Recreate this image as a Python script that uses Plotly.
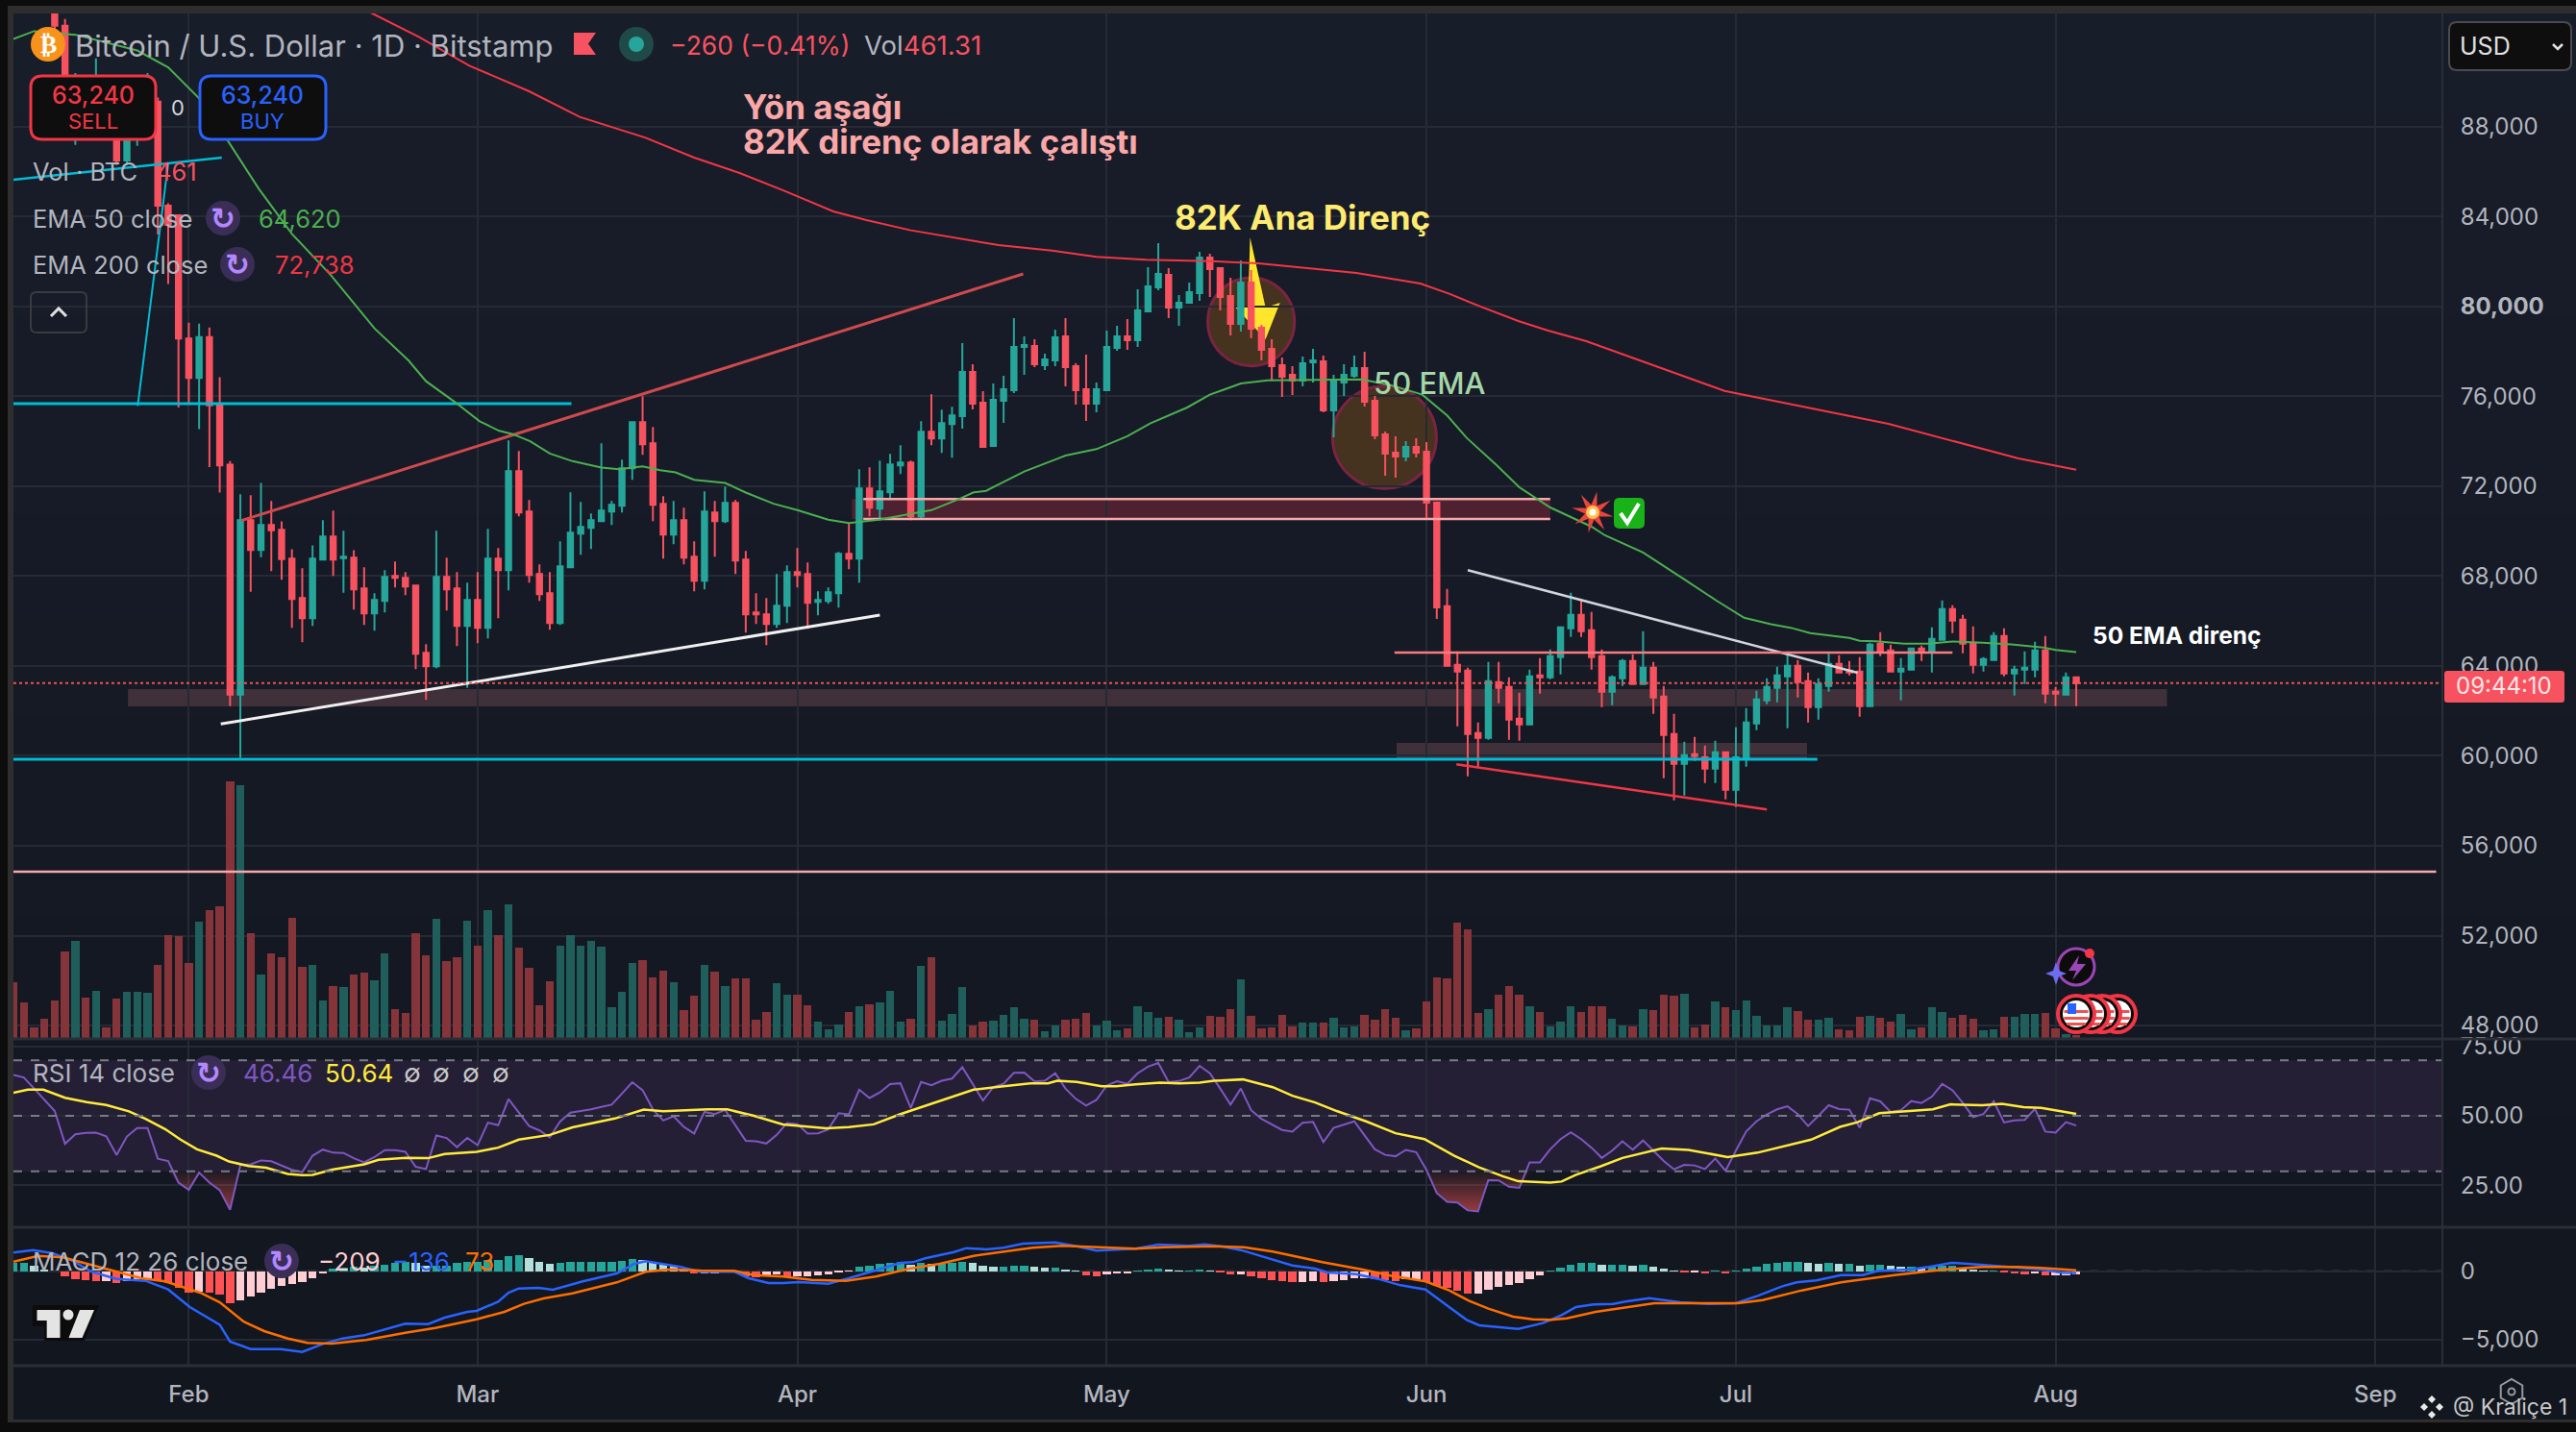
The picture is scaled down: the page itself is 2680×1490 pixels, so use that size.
"""BTC/USD daily chart with volume, RSI and MACD panes."""
import math
from datetime import datetime, timedelta

import numpy as np
import pandas as pd
import plotly.graph_objects as go

START = datetime(2026, 1, 15)
dates = pd.date_range("2026-01-15", "2026-08-03")

opens = [
    97000, 96000, 95300, 95100, 94600, 92500, 88900, 89800, 89400, 89600, 89400, 86500, 87900, 89100, 89125, 84491, 84063,
    78573, 76820, 78644, 75643, 72962, 62724, 70495, 69169, 70281, 70067, 68784, 67030, 66132, 68741, 69768, 68798, 68827, 67458, 66345, 66902, 68014, 67928, 67586, 64592, 63993, 67971, 67458, 65790,
    66945, 65704, 68784, 68271, 72677, 70880, 68100, 67244, 65918, 68399, 69896, 70153, 70453, 70880, 71137, 72805, 74859, 73918, 71223, 69853, 70495, 68870, 67800, 70837, 70453, 71265, 68741, 66388, 66303, 65875, 66688,
    68185, 68100, 66859, 66902, 67244, 68998, 68784, 71907, 71009, 71736, 72934, 73062, 70666, 74431, 74131, 74773, 75123, 77091, 75722, 73797, 75807, 76278, 78203, 78246, 77390, 77604, 78674, 77347, 76321, 75679,
    76278, 78160, 78674, 78503, 79786, 80855, 81411, 79957, 80171, 80599, 82182, 81711, 80470, 79230, 81069, 79059, 78117, 77390, 76962, 76706, 77519, 77561, 75379, 76620, 76920, 77262, 75807, 74310, 73497, 73326, 73754,
    73540, 71273, 66660, 64050, 63794, 61013, 60799, 63280, 63066, 61655, 61398, 63580, 63494, 64393, 65676, 66275, 65590, 64435, 62853, 63451, 64221, 63195, 63922, 62639, 60970, 59644, 60072, 59943, 59430, 60157,
    58489, 59901, 61441, 62467, 63024, 63537, 64007, 63323, 62168, 63109, 64093, 63794, 63751, 62211, 64991, 64692, 63751, 63836, 64777, 64649, 65163, 66532, 66061, 65034, 64050, 64264, 65334, 63665, 63836, 63836, 64692,
    62853, 62724, 63494,
]
highs = [
    97300, 96300, 95600, 95400, 94800, 92800, 90400, 90200, 91050, 90000, 89600, 88900, 89400, 90400, 89300, 84600, 84100,
    79286, 79243, 79072, 76855, 73119, 71650, 71607, 72150, 71351, 70438, 69198, 68356, 69369, 70495, 70923, 70025, 69155, 68399, 67244, 68271, 68656, 68185, 67629, 64976, 70025, 68827, 68185, 67714,
    68185, 70110, 69255, 74046, 73575, 71393, 68527, 68185, 69554, 71736, 71308, 70795, 73918, 71351, 73190, 74902, 76014, 74645, 71565, 71351, 71051, 69554, 71779, 71351, 71993, 71393, 69126, 67244, 67030, 68100, 68485,
    69255, 68613, 67329, 67501, 69083, 70367, 72763, 72848, 73147, 73447, 73832, 73147, 74902, 76099, 75415, 75543, 78374, 77433, 76235, 76577, 76920, 79486, 78674, 78545, 77904, 78973, 79486, 77476, 77861, 76620,
    78930, 79144, 79444, 80770, 81754, 82823, 81711, 80513, 81069, 82438, 82353, 81754, 81283, 82053, 81626, 79187, 78545, 77733, 77347, 77775, 78117, 77818, 76962, 77433, 77818, 77989, 76021, 74438, 74224, 74011, 74139,
    73968, 71315, 67430, 64649, 63922, 61483, 64179, 64179, 63494, 62810, 63836, 64350, 64735, 65761, 67259, 66959, 66403, 64735, 63580, 64307, 64521, 65548, 64179, 63109, 61868, 60628, 60842, 60457, 60671, 60157,
    61270, 62125, 62895, 63451, 63965, 64649, 64264, 63708, 63451, 64606, 64478, 64221, 64393, 65034, 65505, 64949, 64350, 64820, 64906, 65719, 66917, 66703, 66275, 65761, 64393, 65505, 65676, 64007, 64649, 65077, 65334,
    63066, 63708, 63537,
]
lows = [
    95800, 95000, 94800, 94300, 92300, 89900, 87200, 88400, 88500, 88900, 86300, 86300, 87150, 88800, 83207, 81000, 75507,
    75621, 74545, 72860, 71720, 62210, 59914, 67300, 68841, 68228, 67843, 65704, 65062, 65790, 68698, 68014, 67258, 66517, 65832, 65575, 66388, 67501, 67158, 63864, 62495, 63907, 66474, 64891, 63023,
    65019, 65233, 66132, 67372, 70666, 67714, 66902, 65618, 65832, 68399, 68955, 69212, 70410, 70281, 70837, 72292, 73404, 70453, 68784, 69426, 68527, 67329, 67415, 68870, 70367, 68100, 65490, 65875, 64934, 65704, 65918,
    67501, 65661, 66260, 66773, 66602, 68313, 67714, 70666, 70495, 71393, 72548, 70495, 70581, 73832, 73490, 73276, 74567, 75422, 73754, 73754, 74823, 76150, 76962, 77305, 77176, 77347, 76449, 75636, 74909, 75294,
    76278, 78032, 78075, 78203, 79786, 80727, 79486, 79144, 80128, 80256, 80428, 79829, 78716, 78888, 78588, 77604, 76706, 75978, 76064, 76449, 76620, 75294, 74182, 76021, 76834, 75551, 74096, 72471, 72385, 73112, 73283,
    70546, 66097, 63965, 61312, 59088, 59516, 60713, 62339, 60713, 60671, 61398, 62767, 63409, 63622, 65291, 65291, 63836, 62168, 62254, 63109, 63195, 63195, 61868, 59002, 58018, 58232, 59772, 58788, 58788, 58061,
    57719, 59516, 61141, 62296, 62382, 61227, 62596, 61483, 61612, 62853, 63708, 63580, 61740, 62211, 64435, 63708, 62467, 63836, 64221, 63708, 65120, 65462, 64564, 63665, 63751, 64221, 63537, 62681, 63195, 63494, 62339,
    62211, 62724, 62211,
]
closes = [
    96000, 95300, 95100, 94600, 92505, 90100, 89900, 89400, 89600, 89400, 86500, 88200, 89200, 89200, 84491, 83635, 78573,
    76820, 78644, 75600, 72934, 62724, 70495, 69169, 70281, 70039, 68755, 66987, 66132, 68784, 69768, 68741, 68870, 67415, 66345, 66945, 67971, 67928, 67544, 64549, 63993, 67971, 67415, 65790, 66945,
    65704, 68784, 68271, 72677, 70837, 68057, 67201, 65918, 68442, 69939, 70196, 70495, 70923, 71180, 72805, 74859, 73875, 71180, 69853, 70495, 68827, 67800, 70880, 70453, 71265, 68698, 66303, 66303, 65875, 66688, 68185,
    68057, 66816, 66945, 67287, 68998, 68784, 71907, 71051, 71779, 72976, 73062, 70666, 74431, 74131, 74816, 75158, 77091, 75679, 73754, 75850, 76321, 78203, 78289, 77433, 77647, 78631, 77305, 76278, 75679, 76321,
    78203, 78674, 78503, 79829, 80898, 81454, 79957, 80171, 80642, 82182, 81668, 80428, 79230, 81069, 79016, 78075, 77347, 76877, 76706, 77476, 77604, 75379, 76663, 76962, 77262, 75765, 74267, 73455, 73326, 73754, 73497,
    71273, 66610, 64007, 63751, 60970, 60799, 63323, 63024, 61612, 61398, 63537, 63494, 64435, 65719, 66275, 65548, 64393, 62853, 63494, 64221, 63195, 63922, 62596, 60927, 59644, 60029, 59986, 59430, 60157, 58489,
    59943, 61483, 62510, 63066, 63580, 64007, 63280, 62168, 63195, 64093, 63708, 63708, 62211, 64949, 64649, 63751, 63879, 64777, 64649, 65205, 66532, 66018, 64991, 64050, 64307, 65334, 63665, 63836, 63922, 64692, 62767,
    62767, 63494, 63240,
]
volumes = [
    7656, 4884, 1452, 2640, 5148, 11880, 13332, 5544, 6468, 1452, 5412, 6336, 6336, 6204, 10032, 14124, 13992,
    10296, 15972, 17556, 18084, 35244, 34760, 14388, 8712, 11616, 11088, 16500, 9768, 10032, 5148, 7128, 6996, 8712, 8976, 7920, 11616, 3960, 3432, 14388, 11352, 16368, 10560, 11088, 16104,
    12672, 17556, 14124, 18348, 12408, 9636, 4488, 7788, 12672, 14124, 12672, 13332, 12540, 4224, 6336, 10296, 10692, 8316, 9240, 7656, 3828, 5808, 10032, 9108, 7128, 8184, 8184, 2508, 3564, 7524, 5940,
    5940, 4488, 2244, 1188, 1848, 3564, 4356, 4620, 4884, 6468, 2244, 2640, 9900, 11088, 2376, 3300, 6996, 1716, 2244, 2376, 3168, 4224, 2640, 2508, 924, 1716, 2508, 2640, 3432, 1716,
    2376, 1056, 1320, 4356, 3564, 2772, 2904, 2508, 792, 1452, 3036, 2904, 3960, 8052, 3036, 1320, 1452, 3168, 1584, 2112, 2112, 2112, 2772, 1452, 1584, 3168, 2508, 3960, 2772, 1056, 1320,
    5016, 8316, 8184, 15840, 14916, 3432, 3960, 5940, 7128, 5940, 4356, 3564, 1584, 2244, 4356, 3564, 4356, 4356, 2640, 1716, 1584, 3960, 3828, 5940, 5808, 6072, 1452, 1848, 5016, 4224,
    3828, 5148, 3036, 1716, 1716, 4224, 3696, 2508, 2508, 2772, 1188, 1056, 2904, 3036, 2772, 2244, 3300, 1188, 1452, 4224, 3564, 2772, 3168, 2640, 1056, 1188, 2904, 2904, 3300, 3300, 3432,
    1320, 528, 461,
]
rsi = [
    64.7, 63.8, 59.8, 55.7, 51.7, 39.9, 43.3, 43.8, 43.9, 42.6, 35.9, 42.5, 45.6, 45.6, 34.5, 33.7, 25.9,
    23.3, 29.5, 25.9, 23.2, 16.1, 32.2, 32.5, 33.9, 33.6, 32.0, 30.5, 29.7, 35.6, 37.8, 36.7, 36.6, 34.7, 33.2, 35.1, 37.6, 37.6, 37.0, 31.6, 30.8, 42.9, 42.0, 38.7, 42.0,
    39.4, 47.5, 46.6, 56.0, 51.1, 46.3, 44.7, 42.2, 47.9, 51.1, 51.7, 52.3, 53.2, 54.0, 58.0, 62.1, 59.2, 52.3, 48.3, 49.8, 46.0, 43.6, 51.4, 50.6, 52.1, 46.6, 41.0, 40.8, 40.0, 43.1, 47.4,
    47.0, 43.6, 43.7, 45.1, 50.9, 50.5, 59.4, 56.4, 58.4, 61.4, 61.7, 52.8, 62.2, 61.0, 62.6, 63.4, 67.5, 61.5, 55.5, 60.3, 61.5, 65.5, 65.6, 62.4, 62.6, 65.3, 59.8, 56.1, 53.7, 55.7,
    60.9, 62.4, 61.5, 65.3, 67.7, 69.0, 62.1, 62.5, 63.8, 68.0, 65.3, 59.8, 54.0, 59.8, 52.0, 48.9, 46.8, 44.9, 44.3, 47.5, 47.8, 40.5, 45.6, 46.9, 48.0, 42.9, 37.9, 35.9, 35.4, 37.7, 36.9,
    30.5, 22.1, 19.0, 18.7, 15.9, 15.5, 26.8, 26.7, 24.4, 24.0, 33.2, 33.2, 37.9, 41.6, 44.0, 41.6, 38.5, 34.8, 37.4, 40.8, 37.8, 41.1, 37.4, 33.7, 30.7, 32.3, 32.1, 30.8, 34.6, 30.2,
    37.4, 44.3, 48.0, 50.5, 52.3, 53.4, 50.6, 46.3, 50.0, 53.8, 52.4, 52.2, 45.7, 56.3, 55.2, 51.4, 52.0, 55.3, 54.6, 56.9, 61.5, 59.2, 54.6, 49.5, 50.6, 55.2, 47.6, 48.3, 48.5, 52.5, 44.3,
    43.9, 47.7, 46.46,
]
macd_hist = [
    610, 610, 422, 70, 0, -399, -563, -634, -751, -751, -868, -751, -563, -563, -704, -868, -1220,
    -1572, -1502, -1572, -1737, -2347, -2159, -1878, -1572, -1291, -1056, -915, -798, -516, -164, 188, 235, 305, 235, 422, 469, 610, 704, 587, 422, 422, 422, 610, 657,
    704, 821, 845, 1080, 1174, 962, 704, 540, 610, 657, 704, 704, 704, 704, 775, 892, 845, 704, 540, 376, 188, -164, -164, -164, 47, -47, -399, -446, -282, -235, -399,
    -352, -352, -282, -211, -94, -23, 329, 399, 540, 610, 704, 469, 610, 516, 540, 610, 681, 610, 376, 329, 329, 399, 399, 329, 258, 258, 117, 23, -305, -376,
    -258, -164, -164, 47, 117, 188, 117, 47, 47, 117, 47, -94, -235, -235, -376, -516, -657, -728, -798, -798, -728, -798, -728, -657, -516, -516, -587, -657, -728, -587, -587,
    -798, -1080, -1220, -1432, -1643, -1643, -1361, -1150, -1009, -868, -587, -305, 47, 258, 469, 610, 610, 469, 469, 469, 399, 469, 329, 188, 47, -94, -94, -164, 47, -164,
    47, 188, 329, 540, 610, 681, 681, 610, 540, 610, 540, 540, 399, 469, 469, 399, 329, 329, 258, 329, 399, 399, 188, 117, 47, 47, -94, -164, -235, -164, -305,
    -305, -305, -209,
]

# sparse readings, days counted from 15 Jan
ema50_days = [0, 2, 6, 12, 15, 18, 20.9, 23.8, 27, 30.8, 35, 38.3, 40, 42.8, 45.2, 47.1, 48.4, 50.1, 52, 54.2, 57, 58.7, 61, 62.7, 64.2, 66, 69, 71, 73.7, 76, 79, 81, 83.9, 86.3, 89, 91.7, 93.1, 94.3, 97, 98, 101.2, 102, 105, 108, 110.2, 113.8, 116, 119, 121.6, 125.5, 130.7, 133.5, 136.6, 139, 140.9, 143.8, 146, 149, 153, 154.3, 157, 158, 161.9, 165.2, 167.8, 170.4, 172.3, 174.2, 178, 179, 180.6, 183.3, 185.6, 188, 190.9, 193.7, 196.8, 198, 200]
ema50_vals = [91906, 92260, 92100, 91400, 90650, 89268, 87300, 85233, 83236, 81382, 79029, 77604, 76676, 75750, 74894, 74466, 74324, 74003, 73461, 73119, 72834, 72762, 72891, 72720, 72620, 72292, 72150, 71722, 71223, 70938, 70510, 70367, 70510, 70724, 70938, 71437, 71729, 71800, 72442, 72656, 73226, 73369, 73654, 74225, 74795, 75508, 76078, 76577, 76720, 76749, 76763, 76506, 76078, 75151, 74153, 72941, 71957, 71058, 70203, 69818, 69241, 69055, 67886, 66888, 66146, 65861, 65704, 65462, 65248, 65120, 65105, 64991, 64991, 65091, 65034, 64963, 64820, 64720, 64620]
ema200_days = [30, 34.8, 39.3, 44.2, 50, 54.9, 61.3, 66, 70.4, 74.7, 79.5, 82.7, 87, 91.2, 95.5, 100.7, 105, 109.8, 116, 120.7, 125.5, 130.2, 136.4, 139.2, 142.1, 145.9, 148.8, 152.5, 165.9, 173.9, 181.8, 194.4, 200]
ema200_vals = [94100, 93047, 92006, 90723, 89582, 88441, 87514, 86630, 85946, 85161, 84235, 83850, 83394, 83066, 82738, 82495, 82210, 82082, 82025, 81925, 81711, 81497, 81027, 80570, 80028, 79358, 78930, 78460, 76248, 75510, 74780, 73240, 72738]
rsi_ma_days = [0, 1.4, 2.9, 4, 5, 7.1, 9, 11.2, 12.8, 14.7, 16.2, 17.8, 19.7, 20.9, 22.8, 24.5, 26.6, 28, 29, 30.9, 34, 35.4, 38, 40.2, 41.8, 44.9, 47, 49, 52, 54.2, 56.3, 58.3, 61.1, 63, 67.3, 69.2, 71.8, 74.6, 76.7, 78.8, 81, 83.4, 86, 88.8, 91, 93.1, 96, 98.6, 100.3, 101.2, 103.1, 105.5, 106.9, 108.8, 111.2, 113, 115, 116.4, 119.2, 122.1, 124, 126.2, 128.3, 131.2, 134, 136.8, 139.7, 142.1, 144.4, 145.9, 149, 150.1, 151.5, 153.9, 156, 159.8, 162.4, 166.2, 169.1, 171.9, 174.3, 177.1, 178.8, 180.9, 183.3, 186.1, 187.8, 190.9, 192.8, 194.9, 196.6, 200]
rsi_ma_vals = [58.3, 59.4, 59.4, 58, 56.5, 54.9, 53.9, 51.6, 48.9, 45.2, 41.4, 37.9, 35.6, 33.5, 31.9, 31.3, 29, 28.6, 28.7, 30.6, 32.5, 34.1, 34.8, 34.7, 36.2, 37, 38.5, 41.4, 43.1, 45.8, 47.4, 49, 52.2, 51.6, 52.3, 52.3, 50, 46.9, 46.2, 45.5, 45.9, 46.9, 50.6, 54, 56.9, 59.4, 60.6, 61.7, 61.7, 62.6, 62.2, 60.6, 60.6, 61.3, 61.9, 61.7, 61.9, 62.6, 63.1, 60.3, 57.2, 54.8, 51.7, 47.9, 43.7, 41.6, 35.6, 31.4, 28.2, 26.4, 25.9, 26.3, 28.7, 31.8, 34.8, 38.2, 37.7, 35.1, 36.7, 39.1, 41.4, 46, 47.7, 50.9, 51.6, 52.3, 54.1, 53.8, 54.3, 53.1, 52.8, 50.64]
macd_days = [0, 1.9, 3.8, 5.7, 7.6, 10, 12.8, 15, 17.1, 20, 21, 23, 25.9, 28, 30, 31.9, 34, 36.1, 38, 40.2, 41.8, 44, 44.9, 47, 48, 49, 50.9, 52.3, 55.2, 58.5, 60.2, 61.3, 64.7, 66.6, 69.9, 71.3, 73.2, 74.6, 76.2, 79, 81, 83.6, 86, 87.2, 88.4, 91.2, 92.4, 94.3, 96, 97.9, 101, 103.1, 105, 108.8, 111, 114, 115.5, 117, 119, 121.4, 124, 126.2, 127.4, 130.2, 132.3, 134.5, 136.9, 139.2, 140.9, 142.1, 145.9, 148.3, 150.1, 151.5, 153.2, 155.1, 156.3, 158.6, 161.6, 164.4, 167, 169.1, 171.5, 172.9, 174.8, 177.2, 179.3, 180.8, 183.8, 185.7, 187.9, 189.5, 191.9, 194.8, 196.6, 198.6, 200]
macd_vals = [1361, 1549, 1314, 775, -47, -563, -704, -1338, -2629, -3919, -5163, -5703, -5703, -5914, -5328, -4929, -4694, -4272, -3849, -3873, -3403, -2981, -2910, -2230, -1572, -1267, -1220, -1361, -751, -164, 540, 728, 305, -47, -47, -516, -868, -868, -798, -915, -516, 70, 610, 657, 939, 1408, 1690, 1596, 1713, 2018, 2112, 1831, 1502, 1643, 1948, 1854, 1971, 1831, 1549, 1009, 422, 188, -94, -211, -563, -1033, -1338, -2629, -3567, -3966, -4225, -3802, -3215, -2629, -2441, -2394, -2230, -1971, -2277, -2394, -2347, -1807, -1103, -821, -681, -282, -282, 23, 117, 305, 610, 540, 422, 235, 141, -117, -136]
signal_days = [0, 2.4, 4.8, 7.1, 10, 12.4, 14.7, 16.2, 18.1, 20, 22.3, 24.3, 26.6, 28.5, 30.9, 34.2, 38, 40.9, 44.9, 47.6, 49.5, 51.4, 54.2, 58.5, 61.3, 63.7, 66.6, 69.9, 71.8, 74.6, 77.4, 80.7, 83.6, 86.9, 89.8, 93.1, 96, 98.8, 101.7, 105, 108.8, 111.6, 116.4, 119.3, 122.1, 124.5, 126.9, 130.7, 133.5, 136.9, 139.2, 141.1, 143, 145.4, 147.3, 149.1, 150.6, 153.4, 156.3, 159.1, 163.4, 167.2, 169.6, 173.4, 177.2, 182.4, 187.1, 190.9, 194.3, 196.6, 200]
signal_vals = [704, 1127, 1009, 540, -47, -516, -751, -1103, -1572, -2277, -3685, -4389, -4929, -5257, -5304, -5046, -4506, -4154, -3521, -2981, -2394, -1995, -1619, -821, -47, 141, 47, 23, -282, -399, -634, -704, -399, 188, 540, 1127, 1408, 1713, 1854, 1737, 1643, 1760, 1831, 1760, 1432, 1056, 657, 141, -329, -751, -1408, -2159, -2746, -3333, -3521, -3567, -3450, -2981, -2676, -2347, -2347, -2347, -2112, -1408, -821, -282, 117, 305, 305, 235, 73]

last_price = 63240
price_ticks = [88000, 84000, 80000, 76000, 72000, 68000, 64000, 60000, 56000, 52000, 48000]
price_labels = ["88,000", "84,000", "<b>80,000</b>", "76,000", "72,000", "68,000", "64,000", "60,000", "56,000", "52,000", "48,000"]

# drawn lines: (day, price) ends, color, width
drawn_lines = [
    ([0, 20.2], [85646, 86630], "#00bcd4", 2.5),
    ([12.05, 15], [75580, 86374], "#00bcd4", 2),
    ([0, 54.1], [75679, 75679], "#00bcd4", 3),
    ([0, 174.9], [59850, 59850], "#00bcd4", 3),
    ([22.1, 97.9], [70472, 81454], "#cf4a4d", 3),
    ([20.1, 84], [61420, 66266], "#f0f0f0", 3),
    ([141, 178.8], [68265, 63700], "#d1d4dc", 2.5),
    ([133.9, 188], [64600, 64600], "#f77c80", 2.5),
    ([139.9, 170], [59623, 57613], "#f23645", 2.5),
    ([0, 234.9], [54845, 54845], "#f7a8a8", 2.5),
    ([82.4, 149], [71431, 71431], "#f7a8a8", 2.5),
    ([82.4, 149], [70545, 70545], "#f7a8a8", 2.5),
]
zones = [
    (11.1, 208.8, 62203, 62973, "#3f3039"),
    (134.1, 173.9, 59850, 60577, "#3f3039"),
    (81.3, 149, 70545, 71431, "#4e2130"),
]
circles = [(115.8, 124.2, 77360, 81283), (127.9, 137.96, 71901, 76461)]
# hand drawn arrow outline, as (day, price)
arrow_days = [119.9, 119.7, 118.5, 121.4, 122.8, 121.4]
arrow_prices = [83079, 80042, 79956, 78545, 80170, 79956]

# page geometry in pixels
LEFT, RIGHT, TOP, BOTTOM = 14, 2541, 14, 1421
W_PX, H_PX = 2680, 1490


def day(n):
    return START + timedelta(days=n)


def days(values):
    return [day(v) for v in values]


def fx(x):
    return (x - LEFT) / (RIGHT - LEFT)


def fy(y):
    return (BOTTOM - y) / (BOTTOM - TOP)


def pt(x, y):
    return f"{fx(x):.5f},{fy(y):.5f}"


def poly(points, close=True):
    path = "M" + " L".join(pt(x, y) for x, y in points)
    return path + (" Z" if close else "")


def rrect(x0, y0, x1, y1, r):
    return (f"M{pt(x0 + r, y0)} L{pt(x1 - r, y0)} Q{pt(x1, y0)} {pt(x1, y0 + r)} "
            f"L{pt(x1, y1 - r)} Q{pt(x1, y1)} {pt(x1 - r, y1)} L{pt(x0 + r, y1)} "
            f"Q{pt(x0, y1)} {pt(x0, y1 - r)} L{pt(x0, y0 + r)} Q{pt(x0, y0)} {pt(x0 + r, y0)} Z")


shapes = []
annotations = []


def add_rect(x0, y0, x1, y1, color, layer="below"):
    shapes.append(dict(type="rect", xref="paper", yref="paper", x0=fx(x0), x1=fx(x1), y0=fy(y0), y1=fy(y1),
                       fillcolor=color, line_width=0, layer=layer))


def add_path(path, fill=None, line=None, width=0, layer="above"):
    shapes.append(dict(type="path", xref="paper", yref="paper", path=path, fillcolor=fill or "rgba(0,0,0,0)",
                       line=dict(color=line or "rgba(0,0,0,0)", width=width), layer=layer))


def add_circle(cx, cy, r, fill, line=None, width=0, layer="above"):
    shapes.append(dict(type="circle", xref="paper", yref="paper", x0=fx(cx - r), x1=fx(cx + r), y0=fy(cy - r), y1=fy(cy + r),
                       fillcolor=fill, line=dict(color=line or "rgba(0,0,0,0)", width=width), layer=layer))


def label(x, y, text, size=26, color="#b2b5be", anchor="left", weight=None, family="Inter"):
    annotations.append(dict(xref="paper", yref="paper", x=fx(x), y=fy(y), text=text, showarrow=False,
                            xanchor=anchor, yanchor="middle", align=anchor,
                            font=dict(size=size, color=color, family=family, weight=weight)))


def sync_icon(x, y):
    add_circle(x, y, 18, "#3a2e57")
    label(x, y, "<b>↻</b>", size=31, color="#b388ff", anchor="center", family="DejaVu Sans")


# frame and background
bands = 14
for i in range(bands):
    t = i / (bands - 1)
    c = [round(a + (b - a) * t) for a, b in zip((24, 29, 42), (18, 22, 31))]
    y0 = 14 + i * (1477 - 14) / bands
    add_rect(0, y0, W_PX, y0 + (1477 - 14) / bands + 1, f"rgb({c[0]},{c[1]},{c[2]})")
add_rect(0, 0, W_PX, 6, "#0c0c0c")
add_rect(0, 6, W_PX, 14, "#2e2e2e")
add_rect(0, 0, 8, H_PX, "#0c0c0c")
add_rect(8, 6, 14, 1480, "#2e2e2e")
add_rect(8, 1477, W_PX, 1480, "#2e2e2e")
add_rect(0, 1480, W_PX, H_PX, "#0c0c0c")

# zones and circles sit under the candles
for d0, d1, p0, p1, color in zones:
    shapes.append(dict(type="rect", xref="x", yref="y2", x0=day(d0), x1=day(d1), y0=p0, y1=p1,
                       fillcolor=color, line_width=0, layer="below"))
for d0, d1, p0, p1 in circles:
    shapes.append(dict(type="circle", xref="x", yref="y2", x0=day(d0), x1=day(d1), y0=p0, y1=p1,
                       fillcolor="#45321f", line=dict(color="#7a2440", width=3), layer="below"))

# date positions in a shape path use an underscore, a space would split the point
arrow_path = "M" + " L".join(f"{day(d):%Y-%m-%d_%H:%M:%S},{p}" for d, p in zip(arrow_days, arrow_prices)) + " Z"
shapes.append(dict(type="path", xref="x", yref="y2", path=arrow_path, fillcolor="#ffe52b", line_width=0, layer="below"))

# rsi band, levels, macd zero, last price
shapes.append(dict(type="rect", xref="paper", yref="y3", x0=0, x1=1, y0=30, y1=70, fillcolor="#241f35", line_width=0, layer="below"))
for level in (70, 50, 30):
    shapes.append(dict(type="line", xref="paper", yref="y3", x0=0, x1=1, y0=level, y1=level,
                       line=dict(color="#787b86", width=2, dash="dash"), layer="above"))
shapes.append(dict(type="line", xref="paper", yref="y4", x0=0, x1=1, y0=0, y1=0,
                   line=dict(color="#5d606b", width=2, dash="dash"), layer="below"))
shapes.append(dict(type="line", xref="paper", yref="y2", x0=0, x1=1, y0=last_price, y1=last_price,
                   line=dict(color="#ef5350", width=2, dash="dot"), layer="above"))

# pane separators
for y in (1081, 1277, 1421):
    add_rect(LEFT, y - 1.5, W_PX, y + 1.5, "#2b2e37", layer="above")
add_rect(RIGHT - 1, 14, RIGHT + 1, 1421, "#2b2e37", layer="above")

# header
add_circle(50, 46, 18, "#f7931a")
label(50, 46, "<b>₿</b>", size=26, color="#ffffff", anchor="center", family="DejaVu Sans")
label(76, 47, "Bitcoin / U.S. Dollar · 1D · Bitstamp", size=31)
add_path(poly([(597, 34), (620, 34), (612, 45.5), (620, 57), (597, 57)]), fill="#f7525f")
add_circle(662, 46, 18, "#1f4a48")
add_circle(662, 46, 8, "#26a69a")
label(695, 47, "−260 (−0.41%)", size=26.5, color="#f7525f")
label(897, 47, 'Vol<span style="color:#f7525f">461.31</span>', size=27.5)

# order buttons
add_path(rrect(32, 79, 162, 145, 12), fill="#0e0e0e", line="#f23645", width=3)
label(97, 99, "63,240", size=25, color="#f23645", anchor="center", weight=500)
label(97, 126, "SELL", size=22, color="#f23645", anchor="center")
add_path(rrect(208, 79, 339, 145, 12), fill="#0e0e0e", line="#2962ff", width=3)
label(273, 99, "63,240", size=25, color="#2962ff", anchor="center", weight=500)
label(273, 126, "BUY", size=22, color="#2962ff", anchor="center")
label(185, 112, "0", size=22, color="#d1d4dc", anchor="center")

# legend rows
label(32, 179, "Vol · BTC", size=25.5)
label(160, 179, "461", size=25.5, color="#f7525f")
label(32, 227, "EMA 50 close", size=25.5)
sync_icon(232, 227)
label(267, 227, "64,620", size=25.5, color="#4caf50")
label(32, 275, "EMA 200 close", size=25.5)
sync_icon(247, 275)
label(284, 275, "72,738", size=25.5, color="#f23645")
add_path(rrect(32, 304, 90, 346, 6), line="#3b3b3f", width=2)
add_path(poly([(53, 329), (61, 321), (69, 329)], close=False), line="#e0e0e0", width=3)

label(32, 1116, "RSI 14 close", size=26)
sync_icon(217, 1116)
label(251, 1116, "46.46", size=26, color="#7e57c2")
label(336, 1116, "50.64", size=26, color="#ffeb3b")
for x in (429, 459, 490, 521):
    label(x, 1116, "∅", size=26, color="#c8c8c8", anchor="center")

label(32, 1312, "MACD 12 26 close", size=26)
sync_icon(293, 1312)
label(329, 1312, "−209", size=26, color="#ffcdd2")
label(406, 1312, "−136", size=26, color="#2962ff")
label(482, 1312, "73", size=26, color="#ff6d00")

# chart notes
label(771, 111, "<b>Yön aşağı</b>", size=35, color="#f9a7a7")
label(771, 147, "<b>82K direnç olarak çalıştı</b>", size=35, color="#f9a7a7")
label(1355, 226, "<b>82K Ana Direnç</b>", size=35, color="#ffeb70", anchor="center")
label(1427, 398, "50 EMA", size=31, color="#a5d6a7", weight=500)
label(2175, 661, "<b>50 EMA direnç</b>", size=24.5, color="#ffffff")

# burst and check mark
burst = []
for i in range(16):
    a = i * math.pi / 8 + 0.2
    r = 22 if i % 2 == 0 else 8
    burst.append((1657 + r * math.cos(a), 533 + r * math.sin(a)))
add_path(poly(burst), fill="#e8453c")
add_circle(1657, 533, 7, "#ffc14d")
add_circle(1657, 533, 3.5, "#ffffff")
add_path(rrect(1679, 518, 1711, 550, 6), fill="#19b319")
add_path(poly([(1686, 534), (1693, 544), (1705, 524)], close=False), line="#ffffff", width=4)

# currency box and price tag
add_path(rrect(2548, 23, 2675, 73, 8), fill="#0e0e0e", line="#4a4a4f", width=2)
label(2557, 48, "USD", size=25, color="#e0e0e0")
add_path(poly([(2656, 46), (2661, 51), (2666, 46)], close=False), line="#e0e0e0", width=2.5)
add_path(rrect(2543, 698, 2668, 731, 3), fill="#f7525f")
label(2605, 714, "09:44:10", size=24, color="#ffe5e5", anchor="center")

# tradingview mark
add_path(poly([(34, 1358), (103, 1358), (88, 1395), (46, 1395), (46, 1380), (34, 1380)]), fill="#0c0c0c")
add_path(poly([(38.5, 1363), (62.5, 1363), (62.5, 1392), (48.7, 1392), (48.7, 1374), (38.5, 1374)]), fill="#e4e4e4")
add_circle(71, 1368, 5.5, "#e4e4e4")
add_path(poly([(83, 1363), (98, 1363), (85.5, 1392), (71.5, 1392)]), fill="#e4e4e4")

# event markers
add_circle(2160, 1006, 19, "#0c0c0c", line="#9c45b8", width=3)
add_path(poly([(2163, 994), (2152, 1010), (2160, 1010), (2156, 1020), (2170, 1003), (2161, 1003)]), fill="#9c45b8")
add_circle(2174, 992, 5, "#f23645")
add_path(poly([(2139, 1001), (2142, 1010), (2150, 1013), (2142, 1016), (2139, 1025), (2136, 1016), (2128, 1013), (2136, 1010)]), fill="#6d6df0")
for cx in (2203, 2187, 2175, 2160):
    add_circle(cx, 1055, 21, "#f23645")
    add_circle(cx, 1055, 17, "#0c0c0c")
    add_circle(cx, 1055, 14, "#ffffff")
    for dy in (-4, 3, 9):
        half = math.sqrt(max(14 ** 2 - dy ** 2, 0)) - 1
        add_rect(cx - half, 1055 + dy, cx + half, 1055 + dy + 3, "#ef5350", layer="above")
    add_rect(cx - 9, 1044, cx, 1055, "#2962ff", layer="above")

# footer
label(2550, 1464, "@ Kraliçe 1", size=23, color="#c9c9c9")
for dx, dy in ((0, -8), (-8, 0), (8, 0), (0, 8)):
    add_path(poly([(2530 + dx, 1460 + dy), (2534 + dx, 1464 + dy), (2530 + dx, 1468 + dy), (2526 + dx, 1464 + dy)]), fill="#e8e8e8")
hexagon = [(2613 + 13 * math.sin(i * math.pi / 3), 1448 + 13 * math.cos(i * math.pi / 3)) for i in range(6)]
add_path(poly(hexagon), line="#9598a1", width=2)
add_circle(2613, 1448, 3.5, "rgba(0,0,0,0)", line="#9598a1", width=2)

# volume and macd colors
up = np.array(closes) >= np.array(opens)
vol_colors = ["#205e5b" if u else "#853539" for u in up]
hist_colors = []
for i, v in enumerate(macd_hist):
    rising = i == 0 or v >= macd_hist[i - 1]
    if v >= 0:
        hist_colors.append("#26a69a" if rising else "#b2dfdb")
    else:
        hist_colors.append("#ffcdd2" if rising else "#ff5252")

bar_width = 0.78 * 86400000
fig = go.Figure()
fig.add_trace(go.Bar(x=dates, y=volumes, marker=dict(color=vol_colors, line_width=0), width=bar_width, yaxis="y"))
fig.add_trace(go.Candlestick(
    x=dates, open=opens, high=highs, low=lows, close=closes, yaxis="y2", whiskerwidth=0,
    increasing=dict(line=dict(color="#26a69a", width=2), fillcolor="#26a69a"),
    decreasing=dict(line=dict(color="#f7525f", width=2), fillcolor="#f7525f"),
))
for line_days, line_prices, color, width in drawn_lines:
    fig.add_trace(go.Scatter(x=days(line_days), y=line_prices, mode="lines", yaxis="y2", line=dict(color=color, width=width)))
fig.add_trace(go.Scatter(x=days(ema50_days), y=ema50_vals, mode="lines", yaxis="y2", line=dict(color="#4caf50", width=2)))
fig.add_trace(go.Scatter(x=days(ema200_days), y=ema200_vals, mode="lines", yaxis="y2", line=dict(color="#f23645", width=2)))

fig.add_trace(go.Scatter(x=dates, y=[30] * len(dates), mode="lines", yaxis="y3", line=dict(width=0, color="rgba(0,0,0,0)")))
fig.add_trace(go.Scatter(
    x=dates, y=np.minimum(rsi, 30), mode="lines", yaxis="y3", line=dict(width=0, color="rgba(0,0,0,0)"),
    fill="tonexty", fillgradient=dict(type="vertical", colorscale=[[0, "rgba(239,83,80,0.6)"], [1, "rgba(239,83,80,0.05)"]]),
))
fig.add_trace(go.Scatter(x=dates, y=rsi, mode="lines", yaxis="y3", line=dict(color="#7e57c2", width=2)))
fig.add_trace(go.Scatter(x=days(rsi_ma_days), y=rsi_ma_vals, mode="lines", yaxis="y3", line=dict(color="#ffeb3b", width=2.5)))

fig.add_trace(go.Bar(x=dates, y=macd_hist, marker=dict(color=hist_colors, line_width=0), width=bar_width, yaxis="y4"))
fig.add_trace(go.Scatter(x=days(macd_days), y=macd_vals, mode="lines", yaxis="y4", line=dict(color="#2962ff", width=2.5)))
fig.add_trace(go.Scatter(x=days(signal_days), y=signal_vals, mode="lines", yaxis="y4", line=dict(color="#ff6d00", width=2.5)))

GRID = "#262a35"
TICK_FONT = dict(family="Inter", size=24, color="#b2b5be")
clear = "rgba(0,0,0,0)"
fig.update_layout(
    width=W_PX, height=H_PX, autosize=False,
    margin=dict(l=LEFT, r=W_PX - RIGHT, t=TOP, b=H_PX - BOTTOM, pad=0, autoexpand=False),
    paper_bgcolor="#131722", plot_bgcolor=clear,
    showlegend=False, hovermode=False, bargap=0, boxgap=0.28,
    font=dict(family="Inter", color="#b2b5be"),
    xaxis=dict(range=[day(0), day(235.5)], anchor="y4", type="date", dtick="M1", tick0="2026-02-01", tickformat="%b",
               showgrid=True, gridcolor=GRID, gridwidth=2, zeroline=False, showline=False, rangeslider=dict(visible=False),
               ticks="outside", ticklen=8, tickcolor=clear, tickfont=dict(family="Inter", size=24, color="#b2b5be", weight=500)),
    yaxis=dict(domain=[fy(1081), 1], range=[-132, 140712], visible=False, fixedrange=True),
    yaxis2=dict(overlaying="y", side="right", anchor="x", range=[47401, 93047], tickvals=price_ticks, ticktext=price_labels,
                showgrid=True, gridcolor=GRID, gridwidth=2, zeroline=False, ticks="outside", ticklen=13, tickcolor=clear, tickfont=TICK_FONT),
    yaxis3=dict(domain=[fy(1277), fy(1083)], side="right", anchor="x", range=[9.8, 77], tickvals=[25, 50, 75], ticktext=["25.00", "50.00", "75.00"],
                showgrid=True, gridcolor=GRID, gridwidth=2, zeroline=False, ticks="outside", ticklen=13, tickcolor=clear, tickfont=TICK_FONT),
    yaxis4=dict(domain=[0, fy(1279)], side="right", anchor="x", range=[-6924, 3075], tickvals=[-5000, 0], ticktext=["−5,000", "0"],
                showgrid=True, gridcolor=GRID, gridwidth=2, zeroline=False, ticks="outside", ticklen=13, tickcolor=clear, tickfont=TICK_FONT),
    shapes=shapes,
    annotations=annotations,
)

fig.write_html("out.html", config=dict(displayModeBar=False),
               post_script="document.body.style.margin='0';document.body.style.overflow='hidden';")
